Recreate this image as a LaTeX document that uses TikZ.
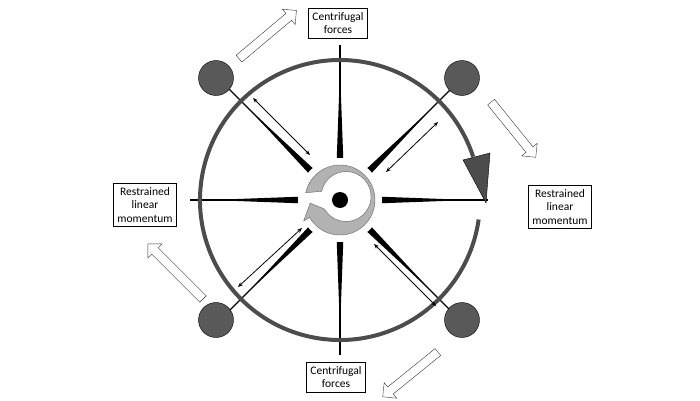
\documentclass[tikz,border=0pt]{standalone}
\usetikzlibrary{shapes.arrows,arrows.meta,calc}
\usepackage{fontspec}
\setmainfont{Carlito}
\begin{document}
\begin{tikzpicture}[x=1pt,y=1pt,
  lbl/.style={draw,fill=white,align=center,font=\fontsize{11.5}{13.5}\selectfont,inner sep=4pt},
  ball/.style={circle,draw=black,fill=black!65,minimum size=35pt,inner sep=0pt},
  hol/.style={single arrow,draw=black!80,fill=white,minimum width=20pt,single arrow head extend=4pt,single arrow head indent=0pt,inner sep=3pt},
  dbl/.style={{Stealth[length=5pt,width=4pt]}-{Stealth[length=5pt,width=4pt]},line width=0.8pt}]
\useasboundingbox (0,0) rectangle (700,400);
\coordinate (c) at (340,200);
% spokes
\foreach \a/\l in {90/155,270/155,180/150,0/148,45/174,135/174,225/174,315/174}{
  \fill (c) ++(\a+90:0.6) -- ++(\a:\l) -- ++(\a-90:1.2) -- ++(\a+180:\l) -- cycle;
  \fill ($(c)+(\a:35)+(\a+90:3.5)$) -- ($(c)+(\a:130)$) -- ($(c)+(\a:35)+(\a-90:3.5)$) -- cycle;
}
\fill[white] (c) circle (42);
% rim
\draw[black!70,line width=4pt] (c) ++(-8:140) arc[start angle=-8,end angle=-342,radius=140];
\fill[black!70,draw=black] (463,240) -- (490,247) -- (486,197) -- cycle;
% hub
\fill[black!30,draw=black!60] (c) ++(168:35) arc[start angle=168,end angle=-150,radius=35]
  -- ($(c)+(-150:42)$) -- ($(c)+(-174:30)$) -- ($(c)+(-150:18)$)
  arc[start angle=-150,end angle=168,radius=25] -- cycle;
\fill (c) circle (8);
% balls
\node[ball] (b1) at (216,322) {};
\node[ball] (b2) at (462,322) {};
\node[ball] (b3) at (216,80) {};
\node[ball] (b4) at (462,80) {};
% double arrows
\coordinate (d1a) at (253,302); \coordinate (d1b) at (310,245);
\coordinate (d2a) at (438,278); \coordinate (d2b) at (386,228);
\coordinate (d3a) at (238,113); \coordinate (d3b) at (302,172);
\coordinate (d4a) at (374,156); \coordinate (d4b) at (436,94);
\draw[dbl] (d1a) -- (d1b);
\draw[dbl] (d2a) -- (d2b);
\draw[dbl] (d3a) -- (d3b);
\draw[dbl] (d4a) -- (d4b);
% hollow arrows
\node[hol,minimum height=75pt,rotate=40] (h1) at (266,364) {};
\node[hol,minimum height=71pt,rotate=-51] (h2) at (512,272) {};
\node[hol,minimum height=78pt,rotate=135] (h3) at (177,127) {};
\node[hol,minimum height=71pt,rotate=219] (h4) at (412,27) {};
% labels
\node[lbl] (t) at (338,377) {Centrifugal\\forces};
\node[lbl] (bo) at (336,23) {Centrifugal\\forces};
\node[lbl] (l) at (145,195) {Restrained\\linear\\momentum};
\node[lbl] (r) at (560,193) {Restrained\\linear\\momentum};
\end{tikzpicture}
\end{document}
